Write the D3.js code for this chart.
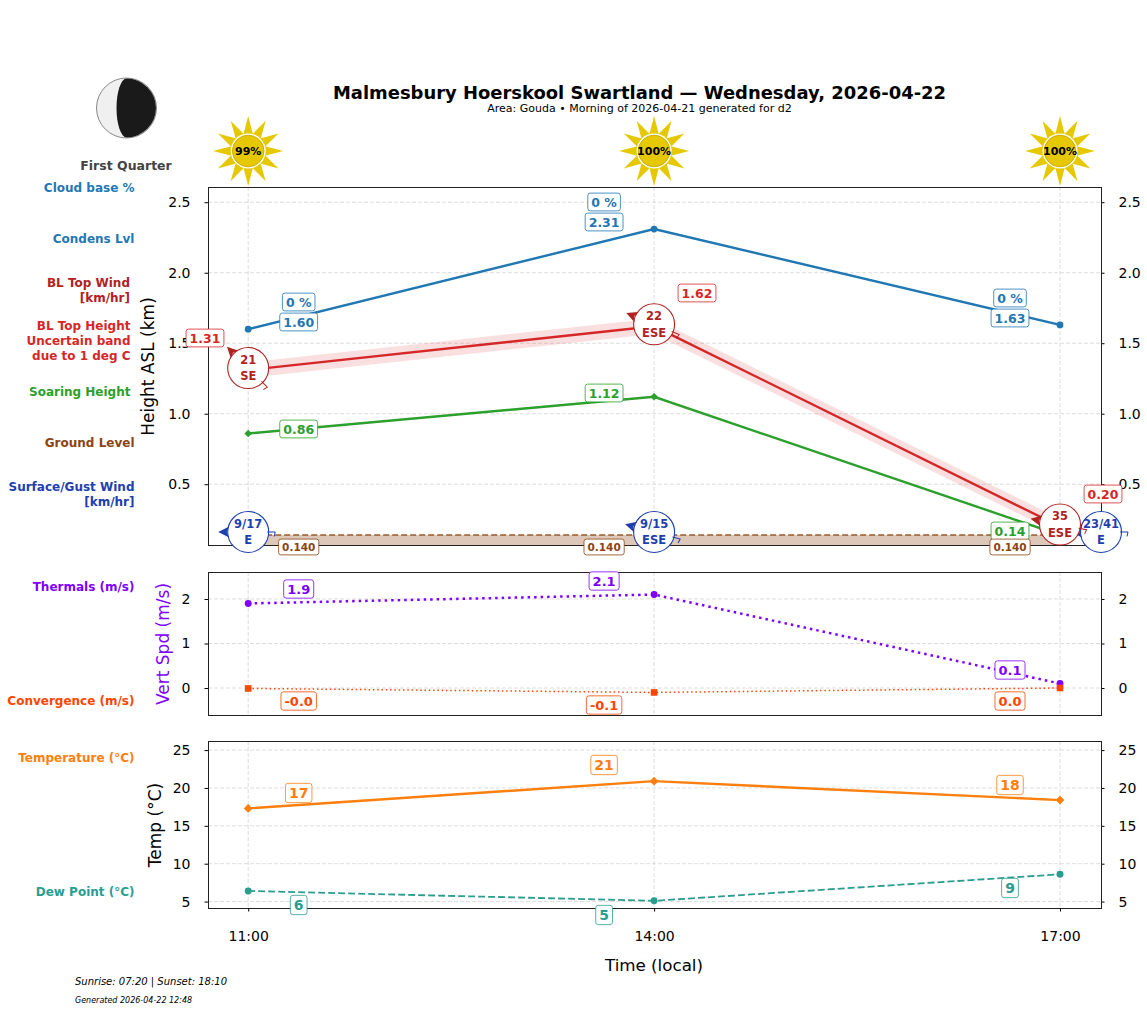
<!DOCTYPE html>
<html>
<head>
<meta charset="utf-8">
<title>Malmesbury Hoerskool Swartland</title>
<script src="https://d3js.org/d3.v7.min.js"></script>
<style>
  html, body { margin: 0; padding: 0; background: #fff; }
  svg { display: block; font-family: "DejaVu Sans", sans-serif; }
  .tick text { fill: #000; }
</style>
</head>
<body>
<svg id="chart" width="1147" height="1011"></svg>
<script>
// data
var hours = [11, 14, 17];
var hourLabels = ["11:00", "14:00", "17:00"];
var sunPct = [99, 100, 100];
var cloudPct = [0, 0, 0];
var condens = [1.60, 2.31, 1.63];
var blTop = [1.31, 1.62, 0.20];
var blTopHi = [1.365, 1.675, 0.255];
var blTopLo = [1.255, 1.565, 0.145];
var soaring = [0.86, 1.12, 0.14];
var ground = [0.14, 0.14, 0.14];
var blWind = ["21", "22", "35"];
var blDir = ["SE", "ESE", "ESE"];
var blBearing = [135, 112, 101];
var sfcWind = ["9/17", "9/15", "23/41"];
var sfcDir = ["E", "ESE", "E"];
var sfcBearing = [90, 105, 90];
var thermals = [1.9, 2.1, 0.1];
var convergence = [-0.01, -0.1, 0.0];
var convLabels = ["-0.0", "-0.1", "0.0"];
var temperature = [17.3, 20.9, 18.4];
var dewPoint = [6.4, 5.1, 8.6];
var tempLabels = ["17", "21", "18"];
var dewLabels = ["6", "5", "9"];
var heightTicks = [0.5, 1.0, 1.5, 2.0, 2.5];
var vertTicks = [0, 1, 2];
var tempTicks = [5, 10, 15, 20, 25];

var BLUE = "#1f77b4", RED = "#d62728", DKRED = "#b22222", GREEN = "#2ca02c", BROWN = "#8b4513",
    NAVY = "#1e40af", PURPLE = "#7f00ff", ORANGERED = "#ff4500", ORANGE = "#ff7f0e", TEAL = "#2a9d8f";

var svg = d3.select("#chart");
var x = d3.scaleLinear().domain([10.7, 17.3]).range([207.6, 1100.6]);
var yH = d3.scaleLinear().domain([0.069, 2.608]).range([545, 187]);
var yV = d3.scaleLinear().domain([-0.607, 2.607]).range([715, 572]);
var yT = d3.scaleLinear().domain([4.15, 26.2]).range([908, 741]);

function panel(y, ticks, fmt, title, titleColor, titleX) {
  var top = y.range()[1], bottom = y.range()[0];
  var g = svg.append("g");
  g.selectAll("line.gy").data(ticks).enter().append("line")
    .attr("x1", 208).attr("x2", 1101).attr("y1", y).attr("y2", y)
    .attr("stroke", "#d4d4d4").attr("stroke-width", 0.8).attr("stroke-dasharray", "4,2");
  g.selectAll("line.gx").data(hours).enter().append("line")
    .attr("y1", top).attr("y2", bottom).attr("x1", x).attr("x2", x)
    .attr("stroke", "#d4d4d4").attr("stroke-width", 0.8).attr("stroke-dasharray", "4,2");
  var axl = d3.axisLeft(y).tickValues(ticks).tickFormat(fmt).tickSize(3.5).tickPadding(14);
  var axr = d3.axisRight(y).tickValues(ticks).tickFormat(fmt).tickSize(3.5).tickPadding(14);
  [g.append("g").attr("transform", "translate(208,0)").call(axl),
   g.append("g").attr("transform", "translate(1101,0)").call(axr)].forEach(function (a) {
    a.select(".domain").remove();
    a.selectAll("text").attr("font-size", 14).attr("font-family", "DejaVu Sans");
  });
  svg.append("text").attr("transform", "translate(" + titleX + "," + (top + bottom + 1) / 2 + ") rotate(-90)")
    .attr("text-anchor", "middle").attr("font-size", 17).attr("fill", titleColor).text(title);
  return g;
}
function frame(y) {
  svg.append("rect").attr("x", 208.5).attr("y", y.range()[1] + 0.5).attr("width", 893)
    .attr("height", y.range()[0] - y.range()[1]).attr("fill", "none").attr("stroke", "#222").attr("stroke-width", 1);
}
function series(y, vals, color, width, dash) {
  return svg.append("path").datum(vals)
    .attr("d", d3.line().x(function (d, i) { return x(hours[i]); }).y(function (d) { return y(d); }))
    .attr("fill", "none").attr("stroke", color).attr("stroke-width", width).attr("stroke-dasharray", dash || null);
}
function markers(y, vals, color, type, size) {
  svg.selectAll(null).data(vals).enter().append("path")
    .attr("transform", function (d, i) { return "translate(" + x(hours[i]) + "," + y(d) + ")"; })
    .attr("d", d3.symbol().type(type).size(size)).attr("fill", color);
}
// rounded value tag
function tag(cx, cy, txt, color, fs) {
  var g = svg.append("g").attr("transform", "translate(" + cx + "," + cy + ")");
  var t = g.append("text").attr("text-anchor", "middle").attr("dy", "0.36em")
    .attr("font-size", fs).attr("font-weight", "bold").attr("fill", color).text(txt);
  var w = t.node().getComputedTextLength() + 7, h = fs + 5.3;
  g.insert("rect", "text").attr("x", -w / 2).attr("y", -h / 2).attr("width", w).attr("height", h)
    .attr("rx", 2.5).attr("fill", "#fff").attr("stroke", color).attr("stroke-opacity", 0.8).attr("stroke-width", 1);
}
// circle with speed/direction, arrow head on the downwind side and small barb on the upwind side
function windDisc(cx, cy, spd, dir, bearing, color) {
  var g = svg.append("g").attr("transform", "translate(" + cx + "," + cy + ")");
  var deg = bearing + 90;
  g.append("circle").attr("r", 20.5).attr("fill", "#fff").attr("stroke", color).attr("stroke-width", 1.1);
  g.append("path").attr("transform", "rotate(" + deg + ") translate(20,0)")
    .attr("d", "M10,0 L-1,-5.5 L1.5,0 L-1,5.5 Z").attr("fill", color);
  g.append("path").attr("transform", "rotate(" + deg + ") translate(-19,0)")
    .attr("d", "M0,0 L-8,0 L-7,-4.5").attr("fill", "none").attr("stroke", color).attr("stroke-width", 1);
  g.append("text").attr("y", -8.3).attr("dy", "0.36em").attr("text-anchor", "middle")
    .attr("font-size", 11.5).attr("font-weight", "bold").attr("fill", color).text(spd);
  g.append("text").attr("y", 8.3).attr("dy", "0.36em").attr("text-anchor", "middle")
    .attr("font-size", 11.5).attr("font-weight", "bold").attr("fill", color).text(dir);
}
function sideLabel(rx, ys, lines, color) {
  lines.forEach(function (s, i) {
    svg.append("text").attr("x", rx).attr("y", ys + i * 15).attr("dy", "0.36em").attr("text-anchor", "end")
      .attr("font-size", 12).attr("font-weight", "bold").attr("fill", color).text(s);
  });
}
function sun(cx, cy, pct) {
  var g = svg.append("g").attr("transform", "translate(" + cx + "," + cy + ")");
  d3.range(12).forEach(function (i) {
    g.append("path").attr("transform", "rotate(" + (i * 30) + ")")
      .attr("d", "M-5.2,-15 L0,-35 L5.2,-15 Z").attr("fill", "#e6c800");
  });
  g.append("circle").attr("r", 17.5).attr("fill", "#fff");
  g.append("circle").attr("r", 15.8).attr("fill", "#e6c800").attr("stroke", "#cbb000").attr("stroke-width", 1);
  g.append("text").attr("dy", "0.36em").attr("text-anchor", "middle").attr("font-size", 11)
    .attr("font-weight", "bold").attr("fill", "#000").text(pct + "%");
}

// header
svg.append("text").attr("x", 639.5).attr("y", 99).attr("text-anchor", "middle").attr("font-size", 17.95)
  .attr("font-weight", "bold").text("Malmesbury Hoerskool Swartland \u2014 Wednesday, 2026-04-22");
svg.append("text").attr("x", 639.5).attr("y", 112).attr("text-anchor", "middle").attr("font-size", 11)
  .text("Area: Gouda \u2022 Morning of 2026-04-21 generated for d2");

// moon
var moon = svg.append("g").attr("transform", "translate(126.5,108)");
moon.append("circle").attr("r", 30).attr("fill", "#f0f0f0").attr("stroke", "#888").attr("stroke-width", 1);
moon.append("path").attr("d", "M0,-29.5 A29.5,29.5 0 0 1 0,29.5 A10,29.5 0 0 1 0,-29.5 Z").attr("fill", "#1a1a1a");
svg.append("text").attr("x", 126).attr("y", 170).attr("text-anchor", "middle").attr("font-size", 12.5)
  .attr("font-weight", "bold").attr("fill", "#444").text("First Quarter");

hours.forEach(function (h, i) { sun(x(h), 151, sunPct[i]); });

// side labels
sideLabel(134.5, 188, ["Cloud base %"], BLUE);
sideLabel(134.5, 239, ["Condens Lvl"], BLUE);
sideLabel(130, 283, ["BL Top Wind", "[km/hr]"], DKRED);
sideLabel(130.5, 326, ["BL Top Height", "Uncertain band", "due to 1 deg C"], RED);
sideLabel(130.5, 392, ["Soaring Height"], GREEN);
sideLabel(134.5, 443, ["Ground Level"], BROWN);
sideLabel(134.5, 487, ["Surface/Gust Wind", "[km/hr]"], NAVY);
sideLabel(134.5, 587, ["Thermals (m/s)"], PURPLE);
sideLabel(134.5, 701, ["Convergence (m/s)"], ORANGERED);
sideLabel(134.5, 758, ["Temperature (\u00b0C)"], ORANGE);
sideLabel(134.5, 892, ["Dew Point (\u00b0C)"], TEAL);

// height panel
panel(yH, heightTicks, d3.format(".1f"), "Height ASL (km)", "#000", 154);
svg.append("path").datum(hours)
  .attr("d", d3.area().x(function (d) { return x(d); }).y0(yH.range()[0]).y1(function (d, i) { return yH(ground[i]); }))
  .attr("fill", BROWN).attr("fill-opacity", 0.3);
series(yH, ground, BROWN, 1.8, "6,3").attr("stroke-opacity", 0.65);
svg.append("path").datum(hours)
  .attr("d", d3.area().x(function (d) { return x(d); })
    .y0(function (d, i) { return yH(blTopLo[i]); }).y1(function (d, i) { return yH(blTopHi[i]); }))
  .attr("fill", RED).attr("fill-opacity", 0.15);
series(yH, condens, BLUE, 2.4);
markers(yH, condens, BLUE, d3.symbolCircle, 36);
series(yH, blTop, RED, 2.4);
series(yH, soaring, GREEN, 2.4);
markers(yH, soaring, GREEN, d3.symbolDiamond2, 36);
frame(yH);

// vertical speed panel
panel(yV, vertTicks, d3.format("d"), "Vert Spd (m/s)", PURPLE, 169);
series(yV, thermals, PURPLE, 2.5, "2.5,4");
markers(yV, thermals, PURPLE, d3.symbolCircle, 38);
series(yV, convergence, ORANGERED, 1.5, "1.5,2.8");
markers(yV, convergence, ORANGERED, d3.symbolSquare, 44);
frame(yV);

// temperature panel
panel(yT, tempTicks, d3.format("d"), "Temp (\u00b0C)", "#000", 161);
series(yT, temperature, ORANGE, 2.4);
markers(yT, temperature, ORANGE, d3.symbolDiamond2, 50);
series(yT, dewPoint, TEAL, 1.8, "7,3");
markers(yT, dewPoint, TEAL, d3.symbolCircle, 38);
frame(yT);

// x axis
var axb = svg.append("g").attr("transform", "translate(0,908)")
  .call(d3.axisBottom(x).tickValues(hours).tickFormat(function (d, i) { return hourLabels[i]; }).tickSize(3.5).tickPadding(20));
axb.select(".domain").remove();
axb.selectAll("text").attr("font-size", 14).attr("font-family", "DejaVu Sans");
svg.append("text").attr("x", 654).attr("y", 971).attr("text-anchor", "middle").attr("font-size", 16.7).text("Time (local)");

// wind discs, surface first so the boundary layer disc sits on top
hours.forEach(function (h, i) {
  windDisc(i === 2 ? x(h) + 41 : x(h), yH(ground[i]) - 3, sfcWind[i], sfcDir[i], sfcBearing[i], NAVY);
});
hours.forEach(function (h, i) { windDisc(x(h), yH(blTop[i]) - 2, blWind[i], blDir[i], blBearing[i], DKRED); });

// value tags
var colLabelX = [x(11) + 50.5, x(14) - 50, x(17) - 50];
var cloudY = [302, 202, 298], condY = [322, 222, 318], soarY = [429, 393, 531], groundY = [547, 547, 547];
var thermY = [589, 581, 670], convY = [701, 705, 701], tempY = [793, 765, 785], dewY = [905, 915, 888];
var blTagX = [205, 697, 1103], blTagY = [338, 293, 494];
hours.forEach(function (h, i) {
  tag(colLabelX[i], cloudY[i], cloudPct[i] + " %", BLUE, 12.5);
  tag(colLabelX[i], condY[i], condens[i].toFixed(2), BLUE, 12.5);
  tag(blTagX[i], blTagY[i], blTop[i].toFixed(2), RED, 12.5);
  tag(colLabelX[i], soarY[i], soaring[i].toFixed(2), GREEN, 12.5);
  tag(colLabelX[i], groundY[i], ground[i].toFixed(3), BROWN, 10.5);
  tag(colLabelX[i], thermY[i], thermals[i].toFixed(1), PURPLE, 13);
  tag(colLabelX[i], convY[i], convLabels[i], ORANGERED, 13);
  tag(colLabelX[i], tempY[i], tempLabels[i], ORANGE, 14);
  tag(colLabelX[i], dewY[i], dewLabels[i], TEAL, 14);
});

// footer
svg.append("text").attr("x", 75).attr("y", 985).attr("font-size", 10).attr("font-style", "italic").text("Sunrise: 07:20 | Sunset: 18:10");
svg.append("text").attr("x", 75).attr("y", 1003).attr("font-size", 8).attr("font-style", "italic").text("Generated 2026-04-22 12:48");
</script>
</body>
</html>
